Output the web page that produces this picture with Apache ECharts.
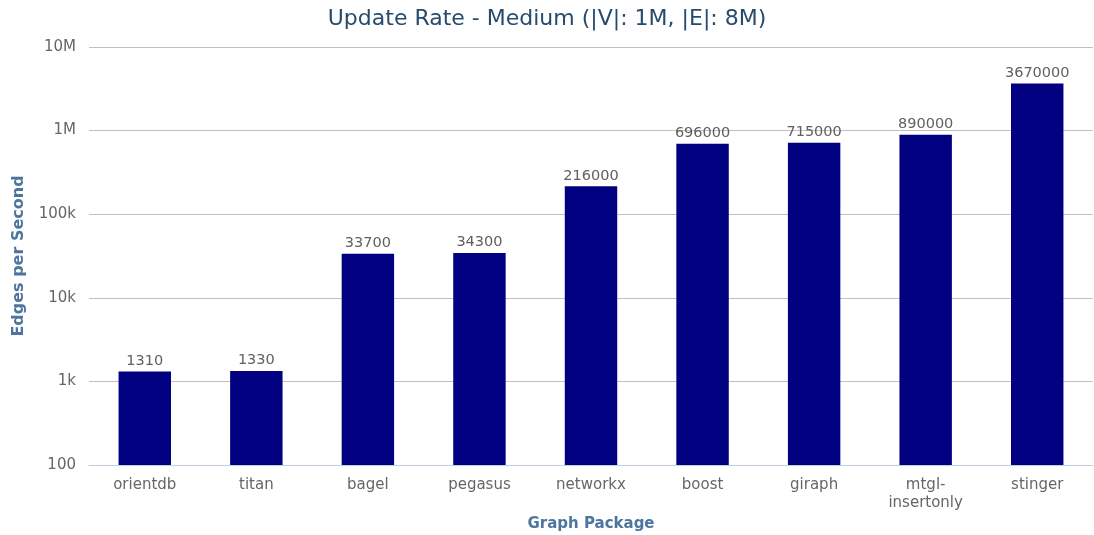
<!DOCTYPE html>
<html>
<head>
<meta charset="UTF-8">
<title>Update Rate - Medium</title>
<script src="https://cdn.jsdelivr.net/npm/echarts@6/dist/echarts.min.js"></script>
<style>
  html,body{margin:0;height:100%;background:#fff;}
  #chart{width:1094px;height:535px;}
</style>
</head>
<body>
<div id="chart"></div>
<script>
const packages = ['orientdb','titan','bagel','pegasus','networkx','boost','giraph','mtgl-insertonly','stinger'];
const rates    = [1310,1330,33700,34300,216000,696000,715000,890000,3670000];

const font = '"DejaVu Sans","Lucida Grande",sans-serif';
const chart = echarts.init(document.getElementById('chart'));

function shortNum(v){
  if (v >= 1e6) return (v/1e6) + 'M';
  if (v >= 1e3) return (v/1e3) + 'k';
  return String(v);
}

chart.setOption({
  animation:false,
  textStyle:{fontFamily:font},
  title:{
    text:'Update Rate - Medium (|V|: 1M, |E|: 8M)',
    left:'center', top:3,
    textStyle:{fontFamily:font,fontSize:22,fontWeight:'normal',color:'#274b6d'}
  },
  grid:{left:89,right:1,top:47,bottom:70,containLabel:false,outerBoundsMode:'none'},
  xAxis:{
    type:'category',
    data:packages,
    name:'Graph Package',
    nameLocation:'middle',
    nameGap:48,
    nameTextStyle:{fontFamily:font,fontSize:15,fontWeight:'bold',color:'#4d759e'},
    axisLine:{lineStyle:{color:'#c0d0e0'}},
    axisTick:{length:8,lineStyle:{color:'#c0d0e0'}},
    axisLabel:{
      fontSize:15,color:'#666',margin:11,interval:0,lineHeight:18,
      formatter:s=>s.replace('-','-\n')
    }
  },
  yAxis:{
    type:'log',
    min:100,max:1e7,logBase:10,
    name:'Edges per Second',
    nameLocation:'middle',
    nameGap:62,
    nameTextStyle:{fontFamily:font,fontSize:16,fontWeight:'bold',color:'#4d759e'},
    axisLine:{show:false},
    axisTick:{show:false},
    splitLine:{lineStyle:{color:'#c0c0c0'}},
    axisLabel:{fontSize:15,color:'#666',margin:13,formatter:shortNum}
  },
  series:[{
    type:'bar',
    data:rates,
    barWidth:'47%',
    itemStyle:{color:'#000080'},
    label:{show:true,position:'top',distance:3,fontSize:14.5,color:'#606060',fontFamily:font}
  }]
});
</script>
</body>
</html>
